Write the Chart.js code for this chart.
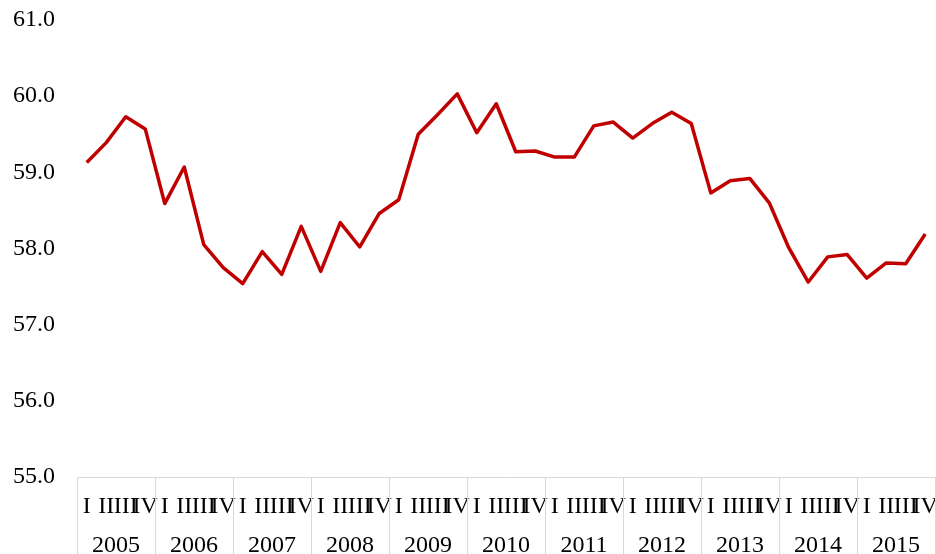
<!DOCTYPE html>
<html>
<head>
<meta charset="utf-8">
<script src="https://cdn.jsdelivr.net/npm/chart.js@4.4.0/dist/chart.umd.min.js"></script>
<style>
  html, body { margin: 0; padding: 0; background: #fff; overflow: hidden; }
  #wrap { width: 936px; height: 554px; }
</style>
</head>
<body>
<div id="wrap"><canvas id="chart"></canvas></div>
<script>
// quarterly values, 2005 Q1 .. 2015 Q4
const years = ["2005", "2006", "2007", "2008", "2009", "2010", "2011", "2012", "2013", "2014", "2015"];
const quarterNames = ["I", "II", "III", "IV"];
const values = [
  59.13, 59.39, 59.73, 59.57,
  58.59, 59.07, 58.05, 57.75,
  57.54, 57.96, 57.66, 58.29,
  57.70, 58.34, 58.02, 58.46,
  58.64, 59.50, 59.76, 60.03,
  59.52, 59.90, 59.27, 59.28,
  59.20, 59.20, 59.61, 59.66,
  59.45, 59.64, 59.79, 59.64,
  58.73, 58.89, 58.92, 58.60,
  58.01, 57.56, 57.89, 57.92,
  57.61, 57.81, 57.80, 58.19
];
const yTicks = [55, 56, 57, 58, 59, 60, 61];

const quarterLabels = [];
years.forEach(() => quarterNames.forEach((q) => quarterLabels.push(q)));

const font = { family: "'Liberation Serif', 'Times New Roman', serif", size: 24 };

// draw the light gray year separators below the axis
const yearSeparators = {
  id: "yearSeparators",
  afterDraw(chart) {
    const xs = chart.scales.x;
    const half = (xs.getPixelForValue(1) - xs.getPixelForValue(0)) / 2;
    const ctx = chart.ctx;
    ctx.save();
    ctx.strokeStyle = "#d9d9d9";
    ctx.lineWidth = 1;
    for (let k = 0; k <= years.length; k++) {
      const px = k < years.length
        ? xs.getPixelForValue(k * quarterNames.length) - half
        : xs.getPixelForValue(quarterLabels.length - 1) + half;
      const x = Math.round(px) + 0.5;
      ctx.beginPath();
      ctx.moveTo(x, chart.chartArea.bottom);
      ctx.lineTo(x, chart.height);
      ctx.stroke();
    }
    ctx.restore();
  }
};

// keep the bottom axes from reserving side space for their labels
function fitBottom(height) {
  return (scale) => {
    scale.height = height;
    scale.paddingLeft = 0;
    scale.paddingRight = 0;
  };
}

new Chart(document.getElementById("chart"), {
  type: "line",
  data: {
    labels: quarterLabels,
    datasets: [
      {
        data: values,
        borderColor: "#C00000",
        backgroundColor: "#C00000",
        borderWidth: 3.5,
        borderJoinStyle: "round",
        pointRadius: 0,
        tension: 0,
        fill: false
      }
    ]
  },
  options: {
    responsive: true,
    maintainAspectRatio: false,
    animation: false,
    layout: { padding: { top: 20, right: 1, left: 0, bottom: 0 } },
    plugins: {
      legend: { display: false },
      tooltip: { enabled: false }
    },
    scales: {
      x: {
        type: "category",
        position: "bottom",
        offset: true,
        grid: { display: false, drawTicks: false },
        border: { display: true, color: "#d9d9d9", width: 1 },
        ticks: {
          color: "#000",
          font: font,
          autoSkip: false,
          maxRotation: 0,
          minRotation: 0,
          padding: 15
        },
        afterFit: fitBottom(44)
      },
      x2: {
        type: "category",
        position: "bottom",
        labels: years,
        offset: true,
        grid: { display: false, drawTicks: false },
        border: { display: false },
        ticks: {
          color: "#000",
          font: font,
          autoSkip: false,
          maxRotation: 0,
          minRotation: 0,
          padding: 10
        },
        afterFit: fitBottom(33)
      },
      y: {
        min: yTicks[0],
        max: yTicks[yTicks.length - 1],
        grid: { display: false, drawTicks: false },
        border: { display: false },
        afterBuildTicks(scale) {
          scale.ticks = yTicks.map((v) => ({ value: v }));
        },
        ticks: {
          color: "#000",
          font: font,
          padding: 22,
          callback: (v) => Number(v).toFixed(1)
        },
        afterFit(scale) {
          scale.width = 77;
          scale.paddingTop = 0;
          scale.paddingBottom = 0;
        }
      }
    }
  },
  plugins: [yearSeparators]
});
</script>
</body>
</html>
